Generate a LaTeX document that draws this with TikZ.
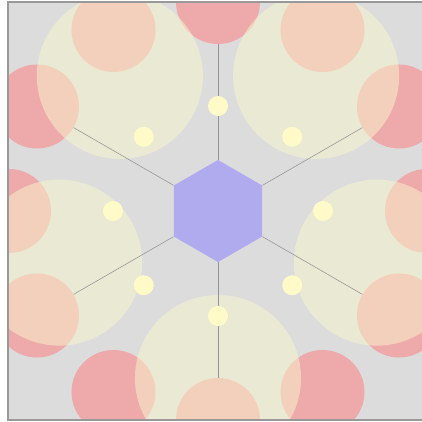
\documentclass[tikz,border=0pt]{standalone}
\usepackage{tikz}
\usetikzlibrary{shapes.geometric}
\definecolor{cBack}{RGB}{220,220,220}
\definecolor{cRed}{RGB}{238,170,170}
\definecolor{cSun}{RGB}{247,247,205}
\definecolor{cHex}{RGB}{176,170,238}
\definecolor{cDot}{RGB}{255,250,200}

\begin{document}
\begin{tikzpicture}[x=0.025cm, y=0.025cm,
          ring/.style={circle, fill=cRed, minimum size=2.1cm, inner sep=0pt},
          sun/.style={circle, fill=cSun, fill opacity=0.5, minimum size=4.15cm, inner sep=0pt},
          dot/.style={circle, fill=cDot, minimum size=0.5cm, inner sep=0pt},
          spoke/.style={draw=black!42, line width=0.4pt}]
        \clip (-218,-211) rectangle (204,211);
        \fill[cBack] (-210,-209) rectangle (210,209);
        \begin{scope}
          \clip (-210,-209) rectangle (210,209);
          % outer ring of twelve
          \foreach \a in {0,30,...,330}
            \node[ring] (r\a) at (\a:209) {};
          % five pale discs
          \foreach \a [count=\i] in {270,342,54,126,198}
            \node[sun] (s\i) at (\a:167) {};
        \end{scope}
        \node[regular polygon, regular polygon sides=6, shape border rotate=30,
              fill=cHex, minimum size=2.55cm, inner sep=0pt] (hex) at (0,0) {};
        \foreach \a in {30,90,...,330}
          \draw[spoke] (hex) -- (r\a);
        % eight small dots
        \foreach \a in {0,45,...,315}
          \node[dot] (d\a) at (\a:105) {};
        \draw[black!40, line width=0.85pt] (-210,-209) rectangle (210,209);
      \end{tikzpicture}
\end{document}
